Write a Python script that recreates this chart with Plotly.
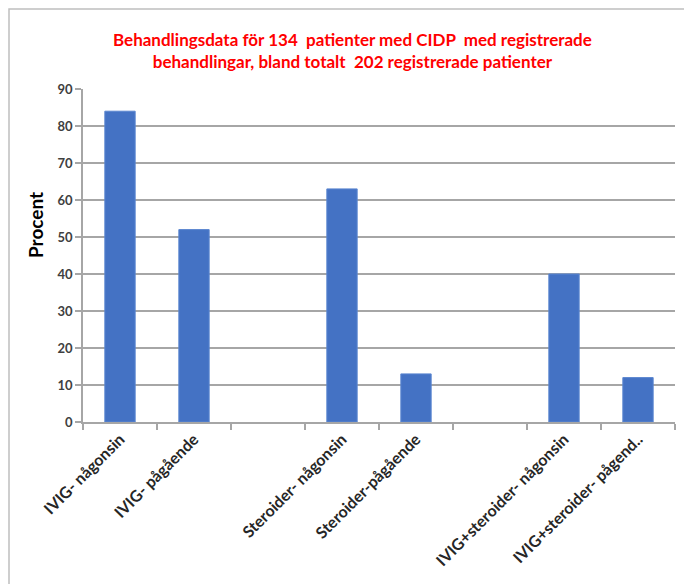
import plotly.graph_objects as go

categories = ["IVIG- någonsin", "IVIG- pågående", " ", "Steroider- någonsin",
              "Steroider-pågående", "  ", "IVIG+steroider- någonsin", "IVIG+steroider- pågend.."]
values = [84, 52, None, 63, 13, None, 40, 12]
y_ticks = [0, 10, 20, 30, 40, 50, 60, 70, 80, 90]

L, R, T, B = 83, 9, 89, 162
W, H = 684, 584
pw, ph = W - L - R, H - T - B

def px(x):
    return (x - L) / pw

def py(y):
    return (H - B - y) / ph

font_family = "Lato, 'Open Sans', sans-serif"

fig = go.Figure(go.Bar(x=categories, y=values, marker_color="#4472C4",
                       marker_line=dict(color="#5B86D0", width=1), width=0.41))

fig.update_layout(
    width=W, height=H, margin=dict(l=L, r=R, t=T, b=B),
    paper_bgcolor="white", plot_bgcolor="white", showlegend=False,
    font=dict(family=font_family, color="#404040"),
    bargap=0.59,
)
fig.update_xaxes(
    type="category", categoryorder="array", categoryarray=categories,
    tickson="boundaries", ticks="outside", ticklen=6, tickcolor="#A6A6A6", tickwidth=1.5,
    showline=True, linecolor="#A6A6A6", linewidth=1.5, tickangle=-45,
    tickfont=dict(size=16, family=font_family, color="#262626", weight="bold"),
    showgrid=False, range=[-0.5, 7.5],
)
fig.update_yaxes(
    range=[0, 90], tickvals=y_ticks, ticks="outside", ticklen=6, tickcolor="#A6A6A6", tickwidth=1.5,
    showline=True, linecolor="#A6A6A6", linewidth=1.5,
    showgrid=True, gridcolor="#A6A6A6", gridwidth=1.5,
    tickfont=dict(size=13, family=font_family, color="#404040", weight="bold"),
    zeroline=False,
)

fig.add_annotation(
    text="Behandlingsdata för 134  patienter med CIDP  med registrerade<br>behandlingar, bland totalt  202 registrerade patienter",
    xref="paper", yref="paper", x=px(352), y=py(51), xanchor="center", yanchor="middle",
    showarrow=False, font=dict(size=17, color="#FF0000", family=font_family, weight="bold"),
    align="center",
)
fig.add_annotation(
    text="Procent", xref="paper", yref="paper", x=px(35), y=py(225),
    xanchor="center", yanchor="middle", textangle=-90, showarrow=False,
    font=dict(size=19, color="#000000", family=font_family, weight="bold"),
)
fig.add_shape(type="rect", xref="paper", yref="paper",
              x0=px(9), x1=px(700), y0=py(600), y1=py(9),
              line=dict(color="#BFBFBF", width=1.5), fillcolor="rgba(0,0,0,0)", layer="below")

fig.write_html("out.html")
